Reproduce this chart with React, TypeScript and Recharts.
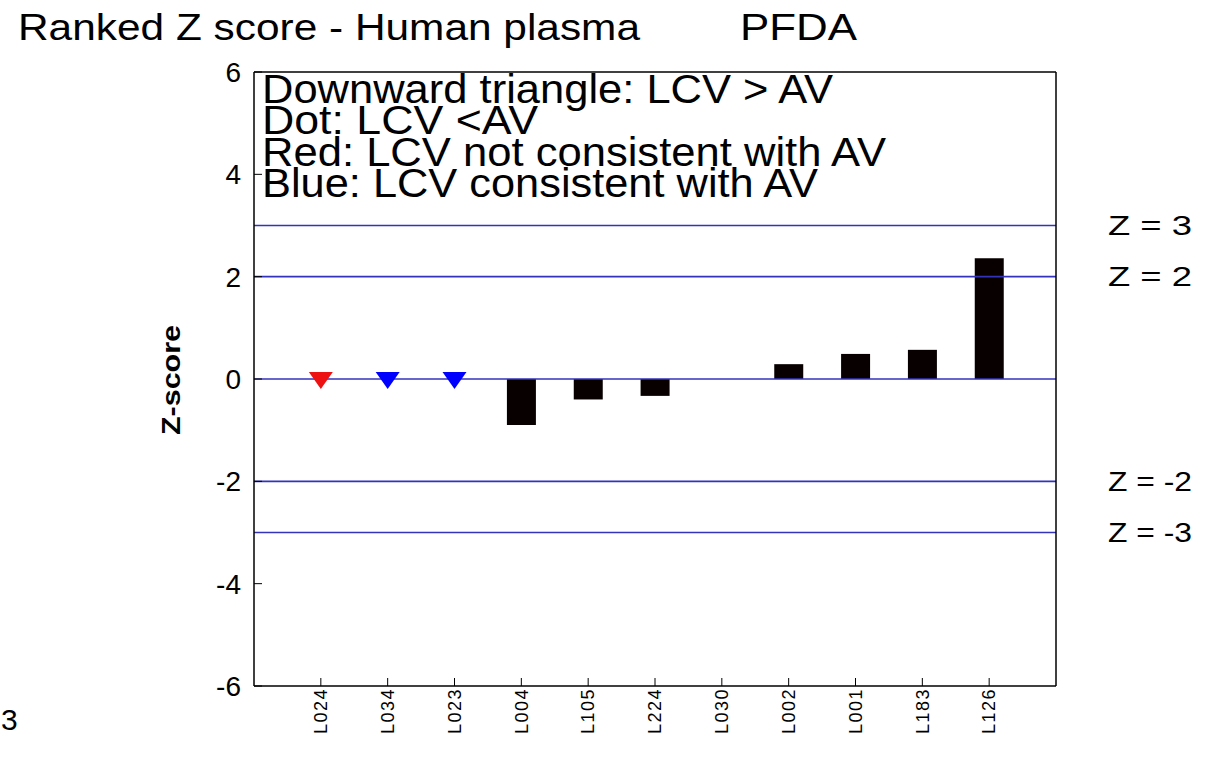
import React from 'react';
import { ComposedChart, Bar, Scatter, XAxis, YAxis, ReferenceLine } from 'recharts';

// participant labs, ranked by Z score
const labs = ['L024', 'L034', 'L023', 'L004', 'L105', 'L224', 'L030', 'L002', 'L001', 'L183', 'L126'];
// bar heights (null = shown as triangle instead)
const zScores = [null, null, null, -0.9, -0.4, -0.33, 0, 0.29, 0.49, 0.57, 2.36];
// downward triangles: LCV > AV
const triangleZ = [0, 0, 0, null, null, null, null, null, null, null, null];
const triangleColors = ['#ee1111', '#0000ff', '#0000ff', null, null, null, null, null, null, null, null];

const yTicks = [-6, -4, -2, 0, 2, 4, 6];
const zLines = [3, 2, 0, -2, -3];
const zLineLabels = ['Z = 3', 'Z = 2', '', 'Z = -2', 'Z = -3'];
const legendLines = [
  'Downward triangle: LCV > AV',
  'Dot: LCV <AV',
  'Red: LCV not consistent with AV',
  'Blue: LCV consistent with AV',
];
const legendWidths = [571, 276, 624, 556];

const FONT = '"Liberation Sans", Arial, sans-serif';
const LINE_BLUE = '#3333bb';

const rows = labs.map((lab, i) => ({ pos: i + 1, lab, z: zScores[i] }));
const triRows = labs
  .map((lab, i) => ({ pos: i + 1, lab, tri: triangleZ[i], color: triangleColors[i] }))
  .filter((r) => r.tri !== null);

const xTicks = labs.map((_, i) => i + 1);

const Triangle = (props: any) => {
  const { cx, cy, payload } = props;
  if (cx == null || cy == null) return null;
  const pts = `${cx - 12},${cy - 7} ${cx + 12},${cy - 7} ${cx},${cy + 10}`;
  return <polygon points={pts} fill={payload.color} />;
};

const LabTick = (props: any) => {
  const { x, y, payload } = props;
  const name = labs[payload.value - 1] ?? '';
  return (
    <g transform={`translate(${x},${y})`}>
      <text
        transform="rotate(-90)"
        x={0}
        y={0}
        textAnchor="end"
        dy="0.35em"
        style={{ fontSize: 18, fontFamily: FONT, letterSpacing: 1.5 }}
        fill="#000"
      >
        {name}
      </text>
    </g>
  );
};

const zLabel = (text: string) => (props: any) => {
  const vb = props.viewBox;
  if (!text || !vb) return null;
  return (
    <text x={vb.x + vb.width + 52} y={vb.y} dy="0.35em" fontSize={28} textLength={84} lengthAdjust="spacingAndGlyphs" fill="#000" fontFamily={FONT}>
      {text}
    </text>
  );
};

export default function App() {
  return (
    <div style={{ position: 'absolute', left: 0, top: 0, background: '#fff', fontFamily: FONT }}>
      <ComposedChart
        width={1225}
        height={758}
        data={rows}
        margin={{ top: 62, right: 159, bottom: 0, left: 154 }}
      >
        <XAxis
          type="number"
          dataKey="pos"
          domain={[0, 12]}
          ticks={xTicks}
          interval={0}
          height={72}
          tickSize={-8}
          tickMargin={10}
          stroke="#000"
          tickLine={{ stroke: '#000' }}
          axisLine={{ stroke: '#000', strokeWidth: 1.5 }}
          tick={<LabTick />}
        />
        <XAxis
          xAxisId="top"
          orientation="top"
          type="number"
          domain={[0, 12]}
          ticks={xTicks}
          interval={0}
          height={10}
          tickSize={-8}
          tick={false}
          stroke="#000"
          tickLine={{ stroke: '#000' }}
          axisLine={{ stroke: '#000', strokeWidth: 1.5 }}
        />
        <YAxis
          type="number"
          domain={[-6, 6]}
          ticks={yTicks}
          interval={0}
          width={100}
          tickSize={-8}
          tickMargin={21}
          stroke="#000"
          tickLine={{ stroke: '#000' }}
          axisLine={{ stroke: '#000', strokeWidth: 1.5 }}
          tick={{ fontSize: 28, fill: '#000', fontFamily: FONT }}
        />
        <YAxis
          yAxisId="right"
          orientation="right"
          type="number"
          domain={[-6, 6]}
          ticks={yTicks}
          interval={0}
          width={10}
          tickSize={-8}
          tick={false}
          stroke="#000"
          tickLine={{ stroke: '#000' }}
          axisLine={{ stroke: '#000', strokeWidth: 1.5 }}
        />
        <Bar dataKey="z" fill="#080000" barSize={29} isAnimationActive={false} />
        {zLines.map((v, i) => (
          <ReferenceLine key={v} y={v} stroke={LINE_BLUE} strokeWidth={1.6} label={zLabel(zLineLabels[i])} />
        ))}
        <Scatter data={triRows} dataKey="tri" shape={<Triangle />} isAnimationActive={false} />

        <text x={18} y={40} fontSize={37} textLength={622} lengthAdjust="spacingAndGlyphs" fill="#000" fontFamily={FONT}>
          Ranked Z score - Human plasma
        </text>
        <text x={740} y={40} fontSize={37} textLength={117} lengthAdjust="spacingAndGlyphs" fill="#000" fontFamily={FONT}>
          PFDA
        </text>
        {legendLines.map((line, i) => (
          <text
            key={line}
            x={262}
            y={103 + i * 31.3}
            fontSize={41}
            textLength={legendWidths[i]}
            lengthAdjust="spacingAndGlyphs"
            fill="#000"
            fontFamily={FONT}
          >
            {line}
          </text>
        ))}
        <text
          transform="translate(171,380) rotate(-90)"
          textAnchor="middle"
          dy="0.35em"
          fontSize={26}
          fontWeight="bold"
          textLength={110}
          lengthAdjust="spacingAndGlyphs"
          fill="#000"
          fontFamily={FONT}
        >
          Z-score
        </text>
        <text x={1} y={730} fontSize={30} fill="#000" fontFamily={FONT}>3</text>
      </ComposedChart>
    </div>
  );
}
